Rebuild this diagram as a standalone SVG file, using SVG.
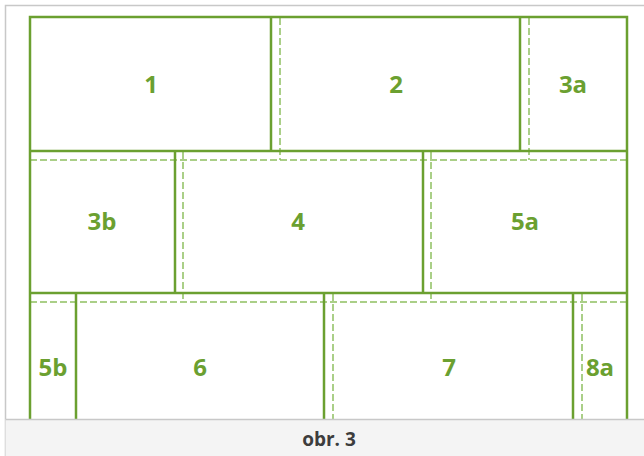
<svg xmlns="http://www.w3.org/2000/svg" width="644" height="456" viewBox="0 0 644 456">
<style>
.s{stroke:#6ba030;stroke-width:2.5;fill:none}
.d{stroke:#8fc060;stroke-width:1.5;fill:none;stroke-dasharray:7 3}
.t{font-family:"Open Sans","Liberation Sans",sans-serif;font-weight:700;font-size:24px;fill:#6ba030;text-anchor:middle}
.c{font-family:"Open Sans","Liberation Sans",sans-serif;font-weight:700;font-size:19px;fill:#3d3d3d;text-anchor:middle}
</style>
<rect x="0" y="0" width="644" height="456" fill="#fff"/>
<path d="M5.5 456V5.5H644" stroke="#c8c8c8" stroke-width="1.5" fill="none"/>
<g id="connectors">
<path class="d" d="M280 18V160M529 18V160M30 160H627M183 152V302M431 152V302M30 302H627M333 294V419M582 294V419"/>
<path class="s" d="M30 419V17H627V419M30 151H627M30 293H627M271 17V151M520 17V151M175 151V293M423 151V293M76 293V419M324 293V419M573 293V419"/>
</g>
<g id="n1"><text class="t" x="151" y="93">1</text></g>
<g id="n2"><text class="t" x="396" y="93">2</text></g>
<g id="n3a"><text class="t" x="573" y="93">3a</text></g>
<g id="n3b"><text class="t" x="102" y="230">3b</text></g>
<g id="n4"><text class="t" x="298" y="230">4</text></g>
<g id="n5a"><text class="t" x="525" y="230">5a</text></g>
<g id="n5b"><text class="t" x="53" y="376">5b</text></g>
<g id="n6"><text class="t" x="200" y="376">6</text></g>
<g id="n7"><text class="t" x="449" y="376">7</text></g>
<g id="n8a"><text class="t" x="600" y="376">8a</text></g>
<g id="caption">
<rect x="5.5" y="419" width="639" height="37" fill="#f4f4f4"/>
<path d="M5.5 419.5H644" stroke="#c8c8c8" stroke-width="1.5"/>
<text class="c" x="329" y="446">obr. 3</text>
</g>
</svg>
